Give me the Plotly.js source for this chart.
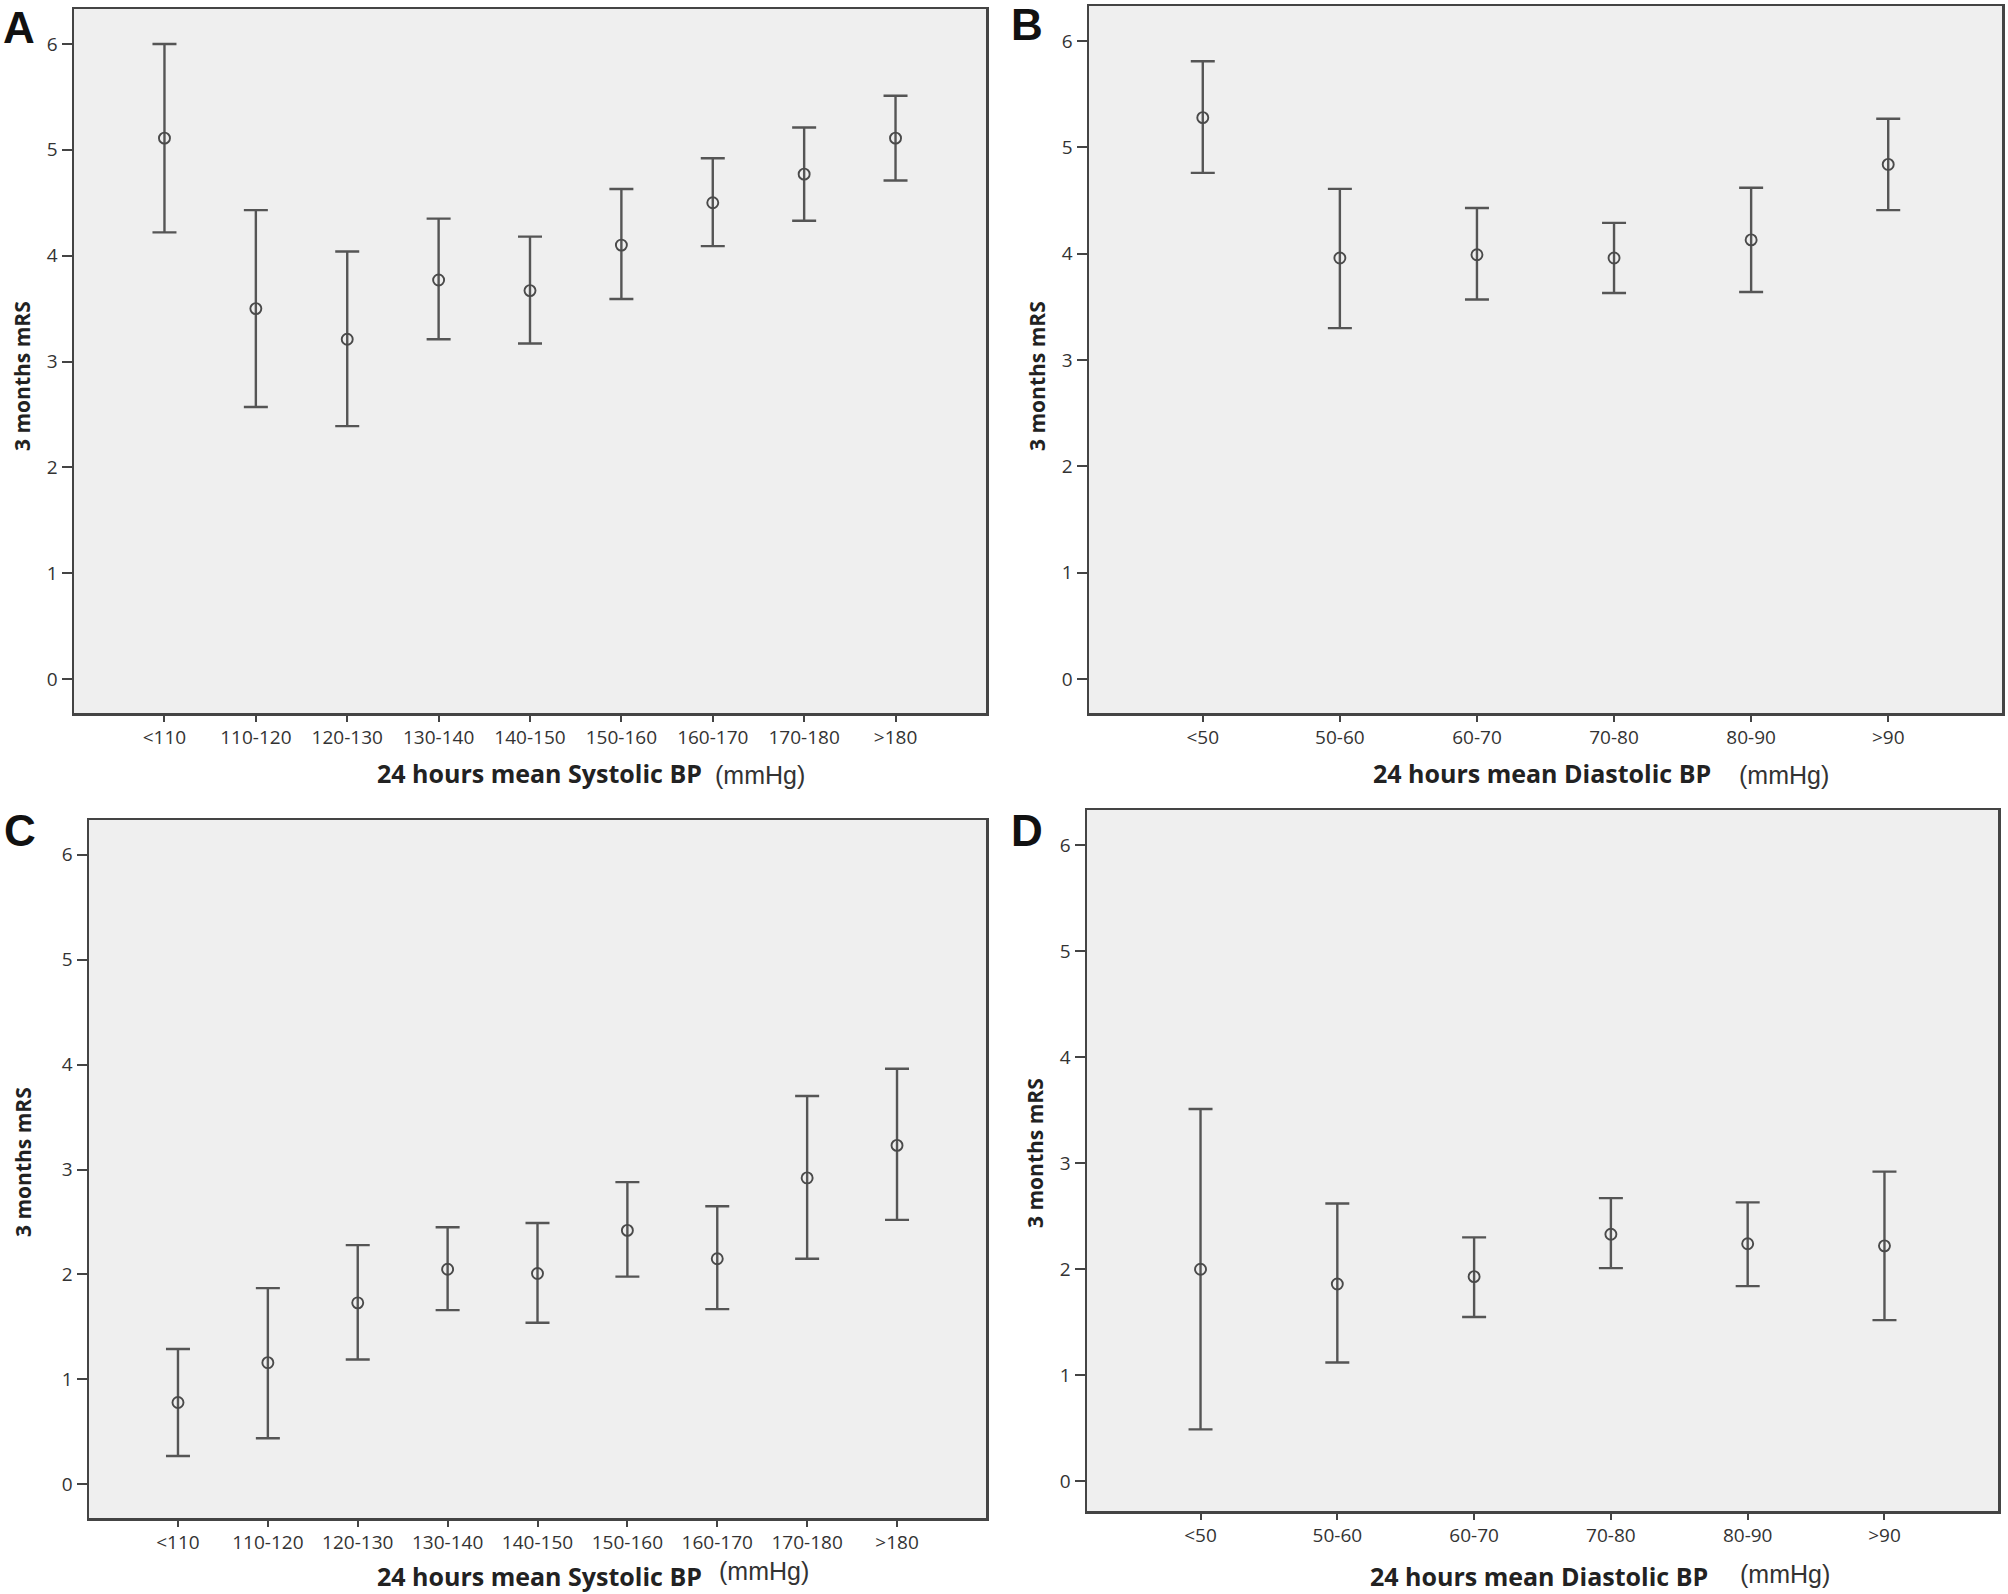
<!DOCTYPE html>
<html>
<head>
<meta charset="utf-8">
<script src="https://cdn.plot.ly/plotly-3.0.1.min.js"></script>
<style>html,body{margin:0;padding:0;background:#fff;}#chart{width:2008px;height:1594px;}</style>
</head>
<body>
<div id="chart"></div>
<script>
// ---- Data ----
const sbpCategories = ["<110","110-120","120-130","130-140","140-150","150-160","160-170","170-180",">180"];
const dbpCategories = ["<50","50-60","60-70","70-80","80-90",">90"];

// Panel A: 24h mean systolic BP vs 3-month mRS
const aMean  = [5.11, 3.50, 3.21, 3.77, 3.67, 4.10, 4.50, 4.77, 5.11];
const aUpper = [6.00, 4.43, 4.04, 4.35, 4.18, 4.63, 4.92, 5.21, 5.51];
const aLower = [4.22, 2.57, 2.39, 3.21, 3.17, 3.59, 4.09, 4.33, 4.71];

// Panel B: 24h mean diastolic BP vs 3-month mRS
const bMean  = [5.28, 3.96, 3.99, 3.96, 4.13, 4.84];
const bUpper = [5.81, 4.61, 4.43, 4.29, 4.62, 5.27];
const bLower = [4.76, 3.30, 3.57, 3.63, 3.64, 4.41];

// Panel C: 24h mean systolic BP vs 3-month mRS
const cMean  = [0.78, 1.16, 1.73, 2.05, 2.01, 2.42, 2.15, 2.92, 3.23];
const cUpper = [1.29, 1.87, 2.28, 2.45, 2.49, 2.88, 2.65, 3.70, 3.96];
const cLower = [0.27, 0.44, 1.19, 1.66, 1.54, 1.98, 1.67, 2.15, 2.52];

// Panel D: 24h mean diastolic BP vs 3-month mRS
const dMean  = [2.00, 1.86, 1.93, 2.33, 2.24, 2.22];
const dUpper = [3.51, 2.62, 2.30, 2.67, 2.63, 2.92];
const dLower = [0.49, 1.12, 1.55, 2.01, 1.84, 1.52];

const panelLetters = ["A","B","C","D"];
const yTitle = "3 months mRS";
const xTitleSys = "24 hours mean Systolic BP";
const xTitleDia = "24 hours mean Diastolic BP";
const unitText = "(mmHg)";

// ---- Drawing ----
const W = 2008, H = 1594;
const px = v => v / W;
const py = v => 1 - v / H;
const dark = '#444';

function trace(cats, mean, up, lo, xa, ya) {
  return {
    type: 'scatter', mode: 'markers',
    x: cats, y: mean, xaxis: xa, yaxis: ya,
    marker: {symbol: 'circle-open', size: 11, color: '#4a4a4a', line: {width: 1.9}},
    error_y: {
      type: 'data', symmetric: false,
      array: up.map((u, i) => u - mean[i]),
      arrayminus: lo.map((l, i) => mean[i] - l),
      color: '#555', thickness: 2.4, width: 12
    },
    showlegend: false, hoverinfo: 'skip'
  };
}

const data = [
  trace(sbpCategories, aMean, aUpper, aLower, 'x', 'y'),
  trace(dbpCategories, bMean, bUpper, bLower, 'x2', 'y2'),
  trace(sbpCategories, cMean, cUpper, cLower, 'x3', 'y3'),
  trace(dbpCategories, dMean, dUpper, dLower, 'x4', 'y4')
];

const tickFont = {family: 'Open Sans, sans-serif', size: 19, color: '#333'};
function xax(cats, x0, x1, anchor, pad) {
  return {
    domain: [px(x0), px(x1)], anchor: anchor, type: 'category',
    categoryarray: cats, categoryorder: 'array',
    range: [-pad, cats.length - 1 + pad],
    showline: true, mirror: true, linecolor: dark, linewidth: 2.5,
    ticks: 'outside', ticklen: 6, tickwidth: 2, tickcolor: dark,
    showgrid: false, zeroline: false, tickfont: tickFont, fixedrange: true
  };
}
function yax(y0, y1, anchor, lo) {
  return {
    domain: [py(y1), py(y0)], anchor: anchor,
    range: [lo, 6.33], tickvals: [0,1,2,3,4,5,6],
    showline: true, mirror: true, linecolor: dark, linewidth: 2.5,
    ticks: 'outside', ticklen: 10, tickwidth: 2, tickcolor: dark,
    showgrid: false, zeroline: false, tickfont: tickFont, fixedrange: true
  };
}

const annotations = [];
function ann(text, x, y, opts) {
  annotations.push(Object.assign({
    text: text, x: px(x), y: py(y), xref: 'paper', yref: 'paper',
    showarrow: false, xanchor: 'center', yanchor: 'middle'
  }, opts));
}
const letterFont = {family: 'Liberation Sans, Arial, sans-serif', size: 44, color: '#111'};
const yTitleFont = {family: 'Open Sans, sans-serif', size: 21, color: '#222'};
const xTitleFont = {family: 'Open Sans, sans-serif', size: 25, color: '#222'};
const unitFont = {family: 'Liberation Sans, Arial, sans-serif', size: 25, color: '#333'};

// letters
ann('<b>' + panelLetters[0] + '</b>', 19, 27, {font: letterFont});
ann('<b>' + panelLetters[1] + '</b>', 1027, 25, {font: letterFont});
ann('<b>' + panelLetters[2] + '</b>', 20, 830, {font: letterFont});
ann('<b>' + panelLetters[3] + '</b>', 1027, 830, {font: letterFont});
// y titles
ann('<b>' + yTitle + '</b>', 22, 376, {font: yTitleFont, textangle: -90});
ann('<b>' + yTitle + '</b>', 1037, 376, {font: yTitleFont, textangle: -90});
ann('<b>' + yTitle + '</b>', 23, 1162, {font: yTitleFont, textangle: -90});
ann('<b>' + yTitle + '</b>', 1035, 1153, {font: yTitleFont, textangle: -90});
// x titles
ann('<b>' + xTitleSys + '</b>', 375, 773, {font: xTitleFont, xanchor: 'left'});
ann(unitText, 713, 775, {font: unitFont, xanchor: 'left'});
ann('<b>' + xTitleDia + '</b>', 1371, 773, {font: xTitleFont, xanchor: 'left'});
ann(unitText, 1737, 775, {font: unitFont, xanchor: 'left'});
ann('<b>' + xTitleSys + '</b>', 375, 1576, {font: xTitleFont, xanchor: 'left'});
ann(unitText, 717, 1571, {font: unitFont, xanchor: 'left'});
ann('<b>' + xTitleDia + '</b>', 1368, 1576, {font: xTitleFont, xanchor: 'left'});
ann(unitText, 1738, 1574, {font: unitFont, xanchor: 'left'});

const layout = {
  width: W, height: H,
  margin: {l: 0, r: 0, t: 0, b: 0},
  paper_bgcolor: '#ffffff', plot_bgcolor: '#efefef',
  showlegend: false,
  xaxis:  xax(sbpCategories, 74, 986, 'y', 0.99),
  yaxis:  yax(9, 713, 'x', -0.32),
  xaxis2: xax(dbpCategories, 1089, 2002, 'y2', 0.83),
  yaxis2: yax(6, 713, 'x2', -0.32),
  xaxis3: xax(sbpCategories, 89, 986, 'y3', 0.99),
  yaxis3: yax(820, 1518, 'x3', -0.32),
  xaxis4: xax(dbpCategories, 1087, 1998, 'y4', 0.83),
  yaxis4: yax(810, 1511, 'x4', -0.28),
  annotations: annotations
};

Plotly.newPlot('chart', data, layout, {staticPlot: true, displayModeBar: false});
</script>
</body>
</html>
